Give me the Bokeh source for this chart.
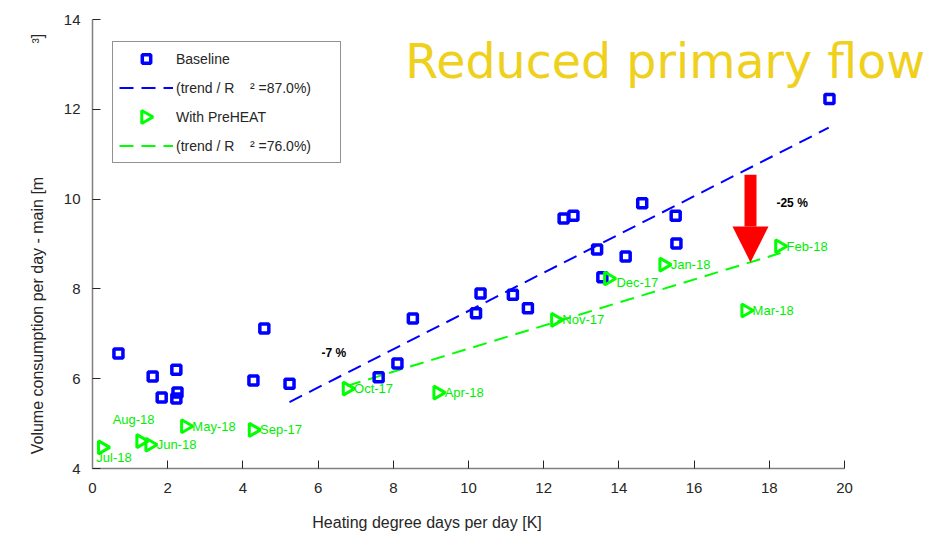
import numpy as np
from bokeh.plotting import figure
from bokeh.models import (ColumnDataSource, Legend, LegendItem, Label, Arrow, NormalHead)
from bokeh.core.properties import value
from bokeh.embed import file_html
from bokeh.resources import INLINE

# ---------------- data ----------------
base_x = [0.69, 1.60, 1.84, 2.23, 2.26, 2.23, 4.28, 4.57, 5.24, 7.61, 8.11, 8.52,
          10.20, 10.32, 11.18, 11.58, 12.53, 12.79, 13.42, 13.56, 14.18, 14.62,
          15.51, 15.53, 19.60]
base_y = [6.56, 6.05, 5.58, 6.20, 5.69, 5.56, 5.96, 7.12, 5.89, 6.03, 6.34, 7.34,
          7.46, 7.90, 7.87, 7.57, 9.57, 9.63, 8.88, 8.26, 8.72, 9.91,
          9.63, 9.01, 12.23]

months = ["Sep-17", "Oct-17", "Nov-17", "Dec-17", "Jan-18", "Feb-18",
          "Mar-18", "Apr-18", "May-18", "Jun-18", "Jul-18", "Aug-18"]
pre_x = [4.27, 6.77, 12.31, 13.72, 15.19, 18.27, 17.37, 9.18, 2.47, 1.52, 0.26, 1.28]
pre_y = [4.86, 5.78, 7.31, 8.23, 8.54, 8.95, 7.52, 5.69, 4.94, 4.53, 4.47, 4.61]

base_trend_x = [5.24, 19.58]
base_trend_y = [5.48, 11.59]
pre_trend_x = [6.77, 18.30]
pre_trend_y = [5.84, 8.80]

base_r2 = "87.0%"
pre_r2 = "76.0%"

arrow_x = 17.5
arrow_y = [10.54, 8.59]
notes = ["-7 %", "-25 %"]
notes_x = [6.09, 18.19]
notes_y = [6.58, 9.92]

x_ticks = list(range(0, 21, 2))
y_ticks = list(range(4, 15, 2))

# ---------------- styles ----------------
BLUE = "#0000ff"
GREEN = "#00ff00"
GREEN_TXT = "#00ee00"
DARK = "#262626"
FONT = "Liberation Sans"
NB = "\u00a0"

# frame spans 0..20 on the axis; extra room on the right for the overlay title
X_END = 22.287

p = figure(width=935, height=534, x_range=(0, X_END), y_range=(4, 14),
           output_backend="svg", toolbar_location=None,
           min_border_left=92, min_border_top=19, min_border_bottom=66,
           min_border_right=5)
p.title.visible = False
p.xgrid.visible = False
p.ygrid.visible = False
p.outline_line_color = None
p.background_fill_color = "white"

for ax in (p.xaxis[0], p.yaxis[0]):
    ax.axis_line_color = "#808080"
    ax.axis_line_width = 1.5
    ax.major_tick_line_color = DARK
    ax.major_tick_in = 8
    ax.major_tick_out = 0
    ax.minor_tick_line_color = None
    ax.major_label_text_font = FONT
    ax.major_label_text_font_size = "15px"
    ax.major_label_text_color = DARK
    ax.axis_label_text_font = FONT
    ax.axis_label_text_font_size = "16px"
    ax.axis_label_text_font_style = "normal"
    ax.axis_label_text_color = DARK
p.xaxis.ticker = x_ticks
p.yaxis.ticker = y_ticks
p.xaxis.bounds = (0, 20)
p.xaxis.major_label_standoff = 14
p.yaxis.major_label_standoff = 12
p.xaxis.axis_label = "Heating degree days per day [K]" + NB * 38
p.yaxis.axis_label = "Volume consumption per day - main [m" + NB * 30 + "\u00b3]"
p.xaxis.axis_label_standoff = 18
p.yaxis.axis_label_standoff = 15

# trend lines
bl = p.line(base_trend_x, base_trend_y, line_color=BLUE, line_width=2, line_dash="14 8")
gl = p.line(pre_trend_x, pre_trend_y, line_color=GREEN, line_width=2, line_dash="14 8")

# markers
bs = p.scatter(base_x, base_y, marker="square", size=9, line_width=3.5,
               line_color=BLUE, fill_color=None)
pre_src = ColumnDataSource(dict(x=pre_x, y=pre_y, label=months))
ts = p.scatter("x", "y", source=pre_src, marker="triangle", size=13, angle=-np.pi / 2,
               line_width=3, line_color=GREEN, fill_color=None)

# month labels
special = {"Jul-18": (-6, 10), "Aug-18": (-28, -22), "Dec-17": (8, 4)}
xo = [special.get(m, (7, 0))[0] for m in months]
yo = [special.get(m, (7, 0))[1] for m in months]
lab_src = ColumnDataSource(dict(x=pre_x, y=pre_y, label=months, xo=xo, yo=yo))
p.text("x", "y", text="label", source=lab_src, x_offset="xo", y_offset="yo",
       text_font=value(FONT), text_font_size="13px", text_color=GREEN_TXT,
       text_baseline="middle", text_align="left")

# notes
for t, nx, ny in zip(notes, notes_x, notes_y):
    p.add_layout(Label(x=nx, y=ny, text=t, text_font=FONT, text_font_size="12px",
                       text_font_style="bold", text_color="black",
                       text_baseline="middle", text_align="left"))

# arrow
p.add_layout(Arrow(end=NormalHead(size=36, fill_color="#ff0000", line_color="#ff0000",
                                  line_width=0),
                   x_start=arrow_x, y_start=arrow_y[0], x_end=arrow_x, y_end=arrow_y[1],
                   line_color="#ff0000", line_width=12))

# title overlay
p.add_layout(Label(x=8.32, y=13.07, text="Reduced primary flow", text_font="DejaVu Sans",
                   text_font_size="47.5px", text_color="#efd01c",
                   text_baseline="middle", text_align="left"))

# legend (transparent box so that the rotated triangle key below shows through)
ts_key = p.scatter([], [], marker="triangle", size=13, line_alpha=0, fill_alpha=0)
legend = Legend(items=[
    LegendItem(label="Baseline", renderers=[bs]),
    LegendItem(label="(trend / R" + NB * 4 + "\u00b2" + NB + "=" + base_r2 + ")" + NB * 6,
               renderers=[bl]),
    LegendItem(label="With PreHEAT", renderers=[ts_key]),
    LegendItem(label="(trend / R" + NB * 4 + "\u00b2" + NB + "=" + pre_r2 + ")",
               renderers=[gl]),
], location=(20, 305), margin=0, padding=6, spacing=8, label_height=21,
    glyph_height=21, glyph_width=54, label_standoff=3,
    label_text_font=FONT, label_text_font_size="14px", label_text_color=DARK,
    border_line_color=DARK, border_line_width=1, background_fill_alpha=0)
p.add_layout(legend, "center")

# right-pointing triangle key (legend keys ignore the marker angle)
p.scatter([1.41], [11.83], marker="triangle", size=13, angle=-np.pi / 2,
          line_width=3, line_color=GREEN, fill_color=None)

open("out.html", "w").write(file_html(p, INLINE))
